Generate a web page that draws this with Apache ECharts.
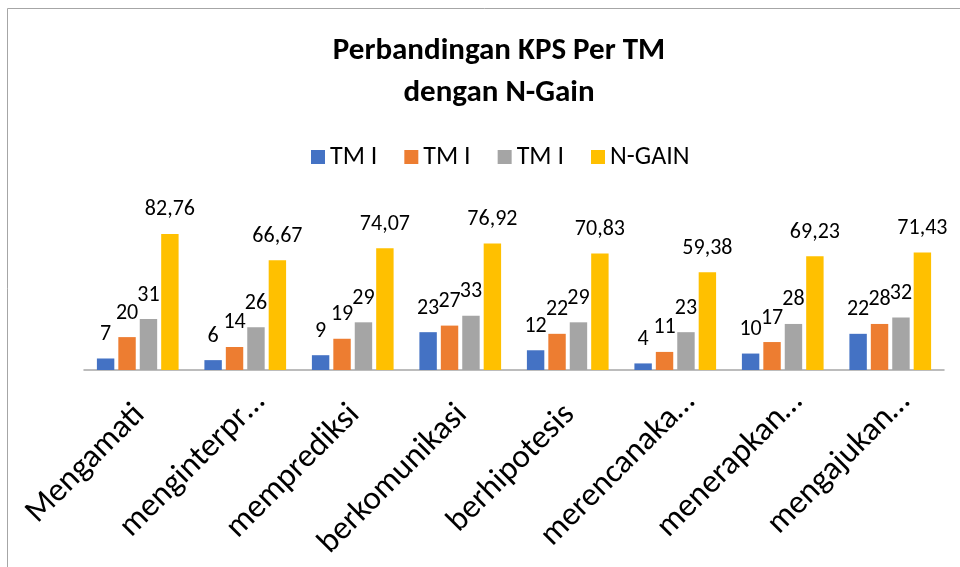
<!DOCTYPE html>
<html>
<head>
<meta charset="utf-8">
<script src="https://cdn.jsdelivr.net/npm/echarts@6/dist/echarts.min.js"></script>
<style>
html,body{margin:0;padding:0;background:#fff;}
#chart{width:960px;height:567px;}
</style>
</head>
<body>
<div id="chart"></div>
<script>
const titleText = 'Perbandingan KPS Per TM\ndengan N-Gain';
const categories = ['Mengamati','menginterpr\u2026','memprediksi','berkomunikasi','berhipotesis','merencanaka\u2026','menerapkan\u2026','mengajukan\u2026'];
const seriesNames = ['TM I', 'TM I', 'TM I', 'N-GAIN'];
const tm1 = [7, 6, 9, 23, 12, 4, 10, 22];
const tm2 = [20, 14, 19, 27, 22, 11, 17, 28];
const tm3 = [31, 26, 29, 33, 29, 23, 28, 32];
const ngain = [82.76, 66.67, 74.07, 76.92, 70.83, 59.38, 69.23, 71.43];
const colors = ['#4472C4', '#ED7D31', '#A5A5A5', '#FFC000'];

const FONT = 'Carlito, Lato, sans-serif';
const chart = echarts.init(document.getElementById('chart'), null, {renderer: 'canvas'});
const values = [tm1, tm2, tm3, ngain];
const decimals = [0, 0, 0, 2];

const series = values.map((arr, i) => ({
  name: seriesNames[i] + '#' + i,
  type: 'bar',
  data: arr,
  barGap: '23%',
  barCategoryGap: '24%',
  itemStyle: {color: colors[i]},
  label: {
    show: true,
    position: 'top',
    distance: 13,
    color: '#000',
    fontFamily: FONT,
    fontSize: 22,
    formatter: p => p.value.toFixed(decimals[i]).replace('.', ',')
  }
}));

// truncated labels (ending with an ellipsis) sit further along their baseline
const catData = categories.map(c => ({
  value: c,
  textStyle: {padding: [0, c.endsWith('\u2026') ? -21 : -3, 0, 0]}
}));

chart.setOption({
  animation: false,
  backgroundColor: '#fff',
  color: colors,
  graphic: [{
    type: 'rect',
    shape: {x: 7.5, y: 8.5, width: 1000, height: 600},
    style: {fill: 'none', stroke: '#a6a6a6', lineWidth: 1},
    silent: true, z: -10
  }],
  title: {
    text: titleText,
    left: 494,
    top: 25,
    textAlign: 'center',
    textStyle: {fontFamily: FONT, fontWeight: 'bold', fontSize: 31, lineHeight: 42, color: '#000'}
  },
  legend: {
    left: 306,
    top: 139,
    itemWidth: 14,
    itemHeight: 14,
    itemGap: 27,
    icon: 'rect',
    data: series.map(s => s.name),
    formatter: n => n.split('#')[0],
    textStyle: {fontFamily: FONT, fontSize: 26, color: '#000'}
  },
  grid: {left: 84, right: 16, top: 222, bottom: 197},
  xAxis: {
    type: 'category',
    data: catData,
    axisLine: {lineStyle: {color: '#a6a6a6', width: 1.5}},
    axisTick: {show: false},
    axisLabel: {interval: 0, rotate: 45, margin: 42, fontFamily: FONT, fontSize: 33, color: '#000'}
  },
  yAxis: {type: 'value', min: 0, max: 90, show: false, splitLine: {show: false}},
  series: series
});
</script>
</body>
</html>
